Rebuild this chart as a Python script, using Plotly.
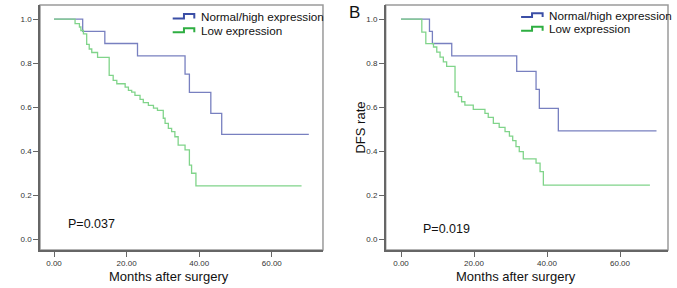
import plotly.graph_objects as go

# ---- Data ----
# Panel A (left)
a_high_t = [0, 7.9, 14.0, 23.0, 36.1, 37.3, 43.2, 46.2, 70.2]
a_high_v = [1.0, 0.944, 0.889, 0.833, 0.75, 0.667, 0.571, 0.476, 0.476]
a_low_t = [0, 5.8, 7.0, 7.4, 8.1, 9.0, 9.7, 10.4, 12.0, 15.2, 16.3, 17.3, 19.6, 20.5,
           21.4, 22.3, 23.7, 24.6, 26.0, 27.4, 28.5, 30.1, 30.6, 31.5, 32.4, 33.3,
           34.2, 36.1, 37.3, 37.9, 39.1, 68.2]
a_low_v = [1.0, 0.979, 0.964, 0.948, 0.933, 0.885, 0.864, 0.848, 0.826, 0.744, 0.721,
           0.706, 0.691, 0.676, 0.668, 0.653, 0.635, 0.62, 0.608, 0.595, 0.585, 0.549,
           0.526, 0.503, 0.488, 0.465, 0.427, 0.405, 0.336, 0.299, 0.242, 0.242]
a_p = "P=0.037"

# Panel B (right)
b_high_t = [0, 7.8, 8.6, 13.9, 31.7, 37.0, 37.9, 43.1, 70.0]
b_high_v = [1.0, 0.944, 0.889, 0.833, 0.762, 0.68, 0.594, 0.492, 0.492]
b_low_t = [0, 5.7, 6.8, 8.9, 9.8, 10.7, 11.6, 12.5, 14.8, 15.7, 16.6, 17.5, 19.8, 23.0,
           23.9, 25.3, 26.9, 28.5, 29.7, 30.6, 31.5, 32.4, 33.5, 37.0, 38.1, 39.0, 68.2]
b_low_v = [1.0, 0.941, 0.888, 0.873, 0.85, 0.827, 0.805, 0.785, 0.668, 0.647, 0.624,
           0.609, 0.589, 0.571, 0.553, 0.526, 0.508, 0.488, 0.468, 0.447, 0.42, 0.397,
           0.364, 0.345, 0.306, 0.245, 0.245]
b_p = "P=0.019"

series_names = ["Normal/high expression", "Low expression"]
x_ticks = [0, 20, 40, 60]
y_ticks = [0.0, 0.2, 0.4, 0.6, 0.8, 1.0]

# ---- Styles ----
BLUE_CURVE = "#7880c0"
GREEN_CURVE = "#80d48a"
BLUE_KEY = "#3b4ea6"
GREEN_KEY = "#2eae42"
FONT = "Liberation Sans, Arial, sans-serif"

fig = go.Figure()
fig.add_trace(go.Scatter(x=a_high_t, y=a_high_v, mode="lines", line=dict(color=BLUE_CURVE, width=1.3, shape="hv"),
                         name=series_names[0], showlegend=False, xaxis="x", yaxis="y"))
fig.add_trace(go.Scatter(x=a_low_t, y=a_low_v, mode="lines", line=dict(color=GREEN_CURVE, width=1.3, shape="hv"),
                         name=series_names[1], showlegend=False, xaxis="x", yaxis="y"))
fig.add_trace(go.Scatter(x=b_high_t, y=b_high_v, mode="lines", line=dict(color=BLUE_CURVE, width=1.3, shape="hv"),
                         name=series_names[0], showlegend=False, xaxis="x2", yaxis="y2"))
fig.add_trace(go.Scatter(x=b_low_t, y=b_low_v, mode="lines", line=dict(color=GREEN_CURVE, width=1.3, shape="hv"),
                         name=series_names[1], showlegend=False, xaxis="x2", yaxis="y2"))

axis_common = dict(showgrid=False, zeroline=False, showline=True, linecolor="#666", linewidth=1.5,
                   ticks="outside", ticklen=5, tickwidth=1, tickcolor="#666",
                   tickfont=dict(family=FONT, size=8, color="#333"))

fig.update_layout(
    width=677, height=288,
    margin=dict(l=40, r=9, t=5, b=38),
    paper_bgcolor="white", plot_bgcolor="white",
    font=dict(family=FONT),
    xaxis=dict(domain=[0, 0.4506], range=[-3.86, 74.1], tickvals=x_ticks, tickformat=".2f",
               anchor="y", **axis_common),
    yaxis=dict(domain=[0, 1], range=[-0.05, 1.064], tickvals=y_ticks, tickformat=".1f",
               anchor="x", **axis_common),
    xaxis2=dict(domain=[0.5505, 1.0], range=[-4.19, 73.15], tickvals=x_ticks, tickformat=".2f",
                anchor="y2", **axis_common),
    yaxis2=dict(domain=[0, 1], range=[-0.05, 1.064], tickvals=y_ticks, tickformat=".1f",
                anchor="x2", **axis_common),
)

shapes = []
# frames (top / right lighter borders)
for xr, yr in [("x", "y"), ("x2", "y2")]:
    shapes.append(dict(type="rect", xref=f"{xr} domain", yref=f"{yr} domain", x0=0, x1=1, y0=0, y1=1,
                       line=dict(color="#9a9a9a", width=1.5), layer="below"))


def key_path(x0, xm, x1, ylo, yhi):
    return f"M {x0},{ylo} L {xm},{ylo} L {xm},{yhi} L {x1},{yhi} L {x1},{ylo}"


# legend keys
shapes.append(dict(type="path", xref="x", yref="y", path=key_path(32.7, 35.8, 38.65, 1.003, 1.023),
                   line=dict(color=BLUE_KEY, width=2)))
shapes.append(dict(type="path", xref="x", yref="y", path=key_path(32.7, 35.8, 38.65, 0.94, 0.958),
                   line=dict(color=GREEN_KEY, width=2)))
shapes.append(dict(type="path", xref="x2", yref="y2", path=key_path(32.9, 35.9, 38.8, 1.010, 1.026),
                   line=dict(color=BLUE_KEY, width=2)))
shapes.append(dict(type="path", xref="x2", yref="y2", path=key_path(32.9, 35.9, 38.8, 0.947, 0.965),
                   line=dict(color=GREEN_KEY, width=2)))
fig.update_layout(shapes=shapes)

ann = []
txt = dict(family=FONT, size=11.7, color="#111")
ann.append(dict(x=39.9, y=1.0105, xref="x", yref="y", text=series_names[0], showarrow=False,
                xanchor="left", yanchor="middle", font=txt))
ann.append(dict(x=39.9, y=0.95, xref="x", yref="y", text=series_names[1], showarrow=False,
                xanchor="left", yanchor="middle", font=txt))
ann.append(dict(x=39.9, y=1.018, xref="x2", yref="y2", text=series_names[0], showarrow=False,
                xanchor="left", yanchor="middle", font=txt))
ann.append(dict(x=39.9, y=0.958, xref="x2", yref="y2", text=series_names[1], showarrow=False,
                xanchor="left", yanchor="middle", font=txt))
ann.append(dict(x=10.2, y=0.068, xref="x", yref="y", text=a_p, showarrow=False,
                xanchor="center", yanchor="middle", font=dict(family=FONT, size=12.5, color="#111")))
ann.append(dict(x=12.56, y=0.045, xref="x2", yref="y2", text=b_p, showarrow=False,
                xanchor="center", yanchor="middle", font=dict(family=FONT, size=12.5, color="#111")))
ann.append(dict(x=0.2054, y=-0.109, xref="paper", yref="paper", text="Months after surgery", showarrow=False,
                xanchor="center", yanchor="middle", font=dict(family=FONT, size=13, color="#111")))
ann.append(dict(x=0.7576, y=-0.109, xref="paper", yref="paper", text="Months after surgery", showarrow=False,
                xanchor="center", yanchor="middle", font=dict(family=FONT, size=13, color="#111")))
ann.append(dict(x=0.5104, y=0.498, xref="paper", yref="paper", text="DFS rate", showarrow=False, textangle=-90,
                xanchor="center", yanchor="middle", font=dict(family=FONT, size=13, color="#111")))
ann.append(dict(x=0.4884, y=0.969, xref="paper", yref="paper", text="B", showarrow=False,
                xanchor="left", yanchor="middle", font=dict(family=FONT, size=17, color="#111")))
fig.update_layout(annotations=ann)

fig.write_html("out.html", config={"displayModeBar": False},
               post_script="document.body.style.margin='0';document.body.style.overflow='hidden';")
